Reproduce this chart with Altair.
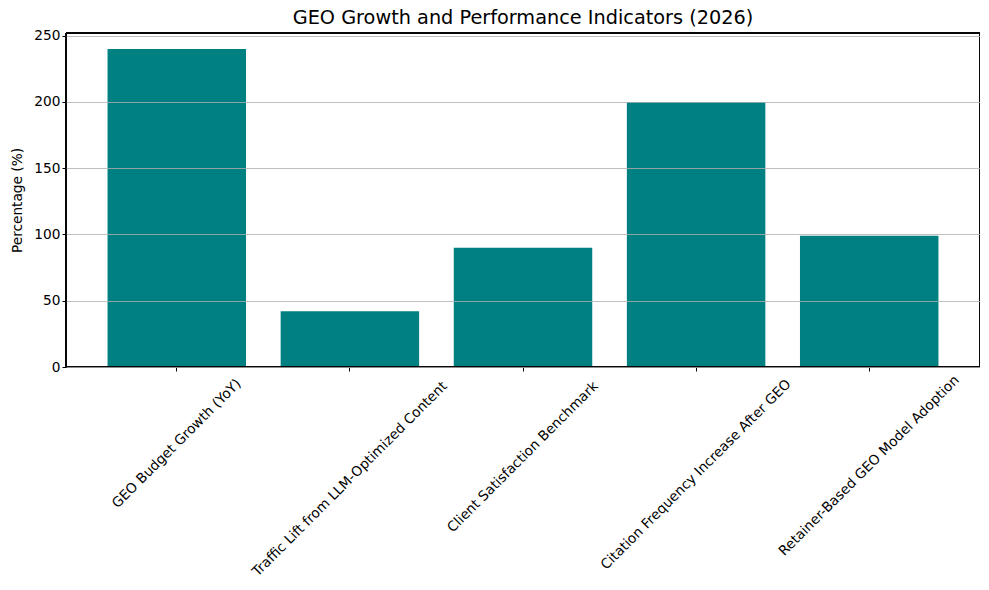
import altair as alt
import pandas as pd

# GEO indicators, percent
indicators = [
    "GEO Budget Growth (YoY)",
    "Traffic Lift from LLM-Optimized Content",
    "Client Satisfaction Benchmark",
    "Citation Frequency Increase After GEO",
    "Retainer-Based GEO Model Adoption",
]
percentages = [240, 42, 90, 200, 99]

source = pd.DataFrame({"indicator": indicators, "pct": percentages})

FONT = "DejaVu Sans"
W, H = 914, 334

bars = alt.Chart(source).mark_bar(color="#008080").encode(
    x=alt.X(
        "indicator:N",
        sort=indicators,
        title=None,
        scale=alt.Scale(paddingInner=0.2, paddingOuter=0.24),
        axis=alt.Axis(
            labelAngle=-45,
            labelAlign="center",
            labelBaseline="middle",
            # matplotlib centres the rotated label box under the tick
            labelPadding={"expr": "21.5 + length(datum.label) * 2.21"},
            labelFontSize=13.7,
            labelFont=FONT,
            labelColor="black",
            labelLimit=0,
            tickColor="black",
            tickSize=4,
            domain=False,
            grid=False,
        ),
    ),
    y=alt.Y(
        "pct:Q",
        title="Percentage (%)",
        scale=alt.Scale(domain=[0, 252], nice=False),
        axis=alt.Axis(
            values=[0, 50, 100, 150, 200, 250],
            labelFontSize=13.7,
            labelFont=FONT,
            labelColor="black",
            titleFont=FONT,
            titleFontSize=13.7,
            titleFontWeight="normal",
            titleColor="black",
            titlePadding=9,
            tickColor="black",
            tickSize=4,
            domain=False,
            grid=True,
            gridColor="#b0b0b0",
            gridWidth=0.8,
            zindex=1,
        ),
    ),
)

# black box round the plot area, like matplotlib spines
frame = alt.Chart(source).mark_rect(fill=None, stroke="black", strokeWidth=1).encode(
    x=alt.value(0), x2=alt.value(W), y=alt.value(0), y2=alt.value(H)
)

chart = alt.layer(bars, frame).properties(
    width=W,
    height=H,
    title=alt.TitleParams(
        "GEO Growth and Performance Indicators (2026)",
        font=FONT,
        fontSize=19.3,
        fontWeight="normal",
        color="black",
        frame="group",
        offset=0,
    ),
    autosize=alt.AutoSizeParams(type="none"),
    padding={"left": 58, "top": 25, "right": 0, "bottom": 220},
).configure(
    background="white"
).configure_view(
    stroke=None
)

chart.save("out.html", embed_options={"renderer": "svg", "actions": False})
